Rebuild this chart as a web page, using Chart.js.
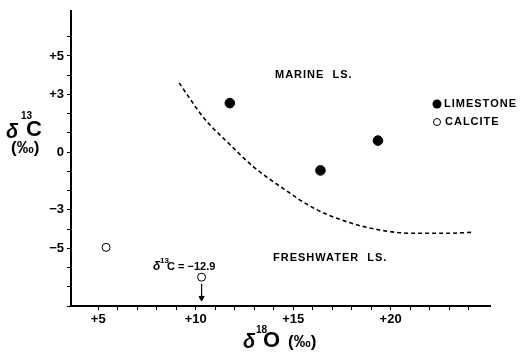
<!DOCTYPE html>
<html>
<head>
<meta charset="utf-8">
<script src="https://cdn.jsdelivr.net/npm/chart.js@4/dist/chart.umd.min.js"></script>
<style>
html,body{margin:0;padding:0;background:#fff;}
</style>
</head>
<body>
<canvas id="chart" width="527" height="359"></canvas>
<script>
// delta 18O / delta 13C values
var limestoneO = [11.75, 16.4, 19.35];
var limestoneC = [2.55, -0.95, 0.6];
var calciteO = [5.4, 10.3];
var calciteC = [-4.95, -6.5];
// dashed boundary marine / freshwater
var curveO = [9.15, 10.4, 11.75, 12.95, 14.5, 16.0, 17.75, 19.45, 21.15, 22.85, 24.15];
var curveC = [3.6, 1.8, 0.4, -0.75, -1.9, -2.88, -3.62, -4.05, -4.22, -4.22, -4.17];
// arrow under the off-scale calcite (d13C = -12.9)
var arrowO = [10.3, 10.3];
var arrowC = [-6.85, -7.58];

var xTickLabels = {5:'+5', 10:'+10', 15:'+15', 20:'+20', 25:'+25'};
var yTickLabels = {5:'+5', 3:'+3', 0:'0', '-3':'\u22123', '-5':'\u22125'};

function pts(xs, ys){
	var out = [];
	for(var i=0;i<xs.length;i++){ out.push({x:xs[i], y:ys[i]}); }
	return out;
}

function onlyInts(scale){
	scale.ticks = scale.ticks.filter(function(t){ return Number.isInteger(t.value); });
}

var FAM = '"Liberation Sans", Arial, sans-serif';
var BOLD = 'bold 11px ' + FAM;

//texts drawn on top
var textPlugin = {
	id:'texts',
	afterDraw:function(chart){
		var ctx = chart.ctx;
		ctx.save();
		ctx.fillStyle = '#000';
		ctx.textBaseline = 'middle';
		ctx.textAlign = 'left';

		// region names
		ctx.font = BOLD;
		ctx.letterSpacing = '1px';
		ctx.fillText('MARINE  LS.', 275, 75);
		ctx.fillText('FRESHWATER  LS.', 273, 258);

		// legend
		ctx.fillText('LIMESTONE', 444, 104);
		ctx.fillText('CALCITE', 445, 122);
		ctx.letterSpacing = '0px';
		ctx.beginPath();
		ctx.arc(437, 104, 4.5, 0, Math.PI*2);
		ctx.fill();
		ctx.beginPath();
		ctx.arc(437, 122, 3.5, 0, Math.PI*2);
		ctx.lineWidth = 1;
		ctx.strokeStyle = '#000';
		ctx.stroke();

		// note for the off-scale calcite
		ctx.font = 'bold italic 12px ' + FAM;
		ctx.fillText('\u03b4', 153, 267);
		ctx.font = 'bold 8px ' + FAM;
		ctx.fillText('13', 160, 261);
		ctx.font = BOLD;
		ctx.fillText('C = \u221212.9', 167, 267);

		// y axis title
		ctx.font = 'bold italic 20px ' + FAM;
		ctx.fillText('\u03b4', 6, 132);
		ctx.font = 'bold 10px ' + FAM;
		ctx.fillText('13', 21, 116);
		ctx.font = 'bold 22px ' + FAM;
		ctx.fillText('C', 26, 130);
		ctx.font = 'bold 17px ' + FAM;
		ctx.fillText('(\u2030)', 11, 148);

		// x axis title
		ctx.font = 'bold italic 20px ' + FAM;
		ctx.fillText('\u03b4', 243, 342);
		ctx.font = 'bold 10px ' + FAM;
		ctx.fillText('18', 256, 330);
		ctx.font = 'bold 22px ' + FAM;
		ctx.fillText('O', 263, 341);
		ctx.font = 'bold 17px ' + FAM;
		ctx.fillText('(\u2030)', 288, 342);
		ctx.restore();
	}
};

var tickFont = {family:FAM, size:13, weight:'bold'};

var myChart = new Chart(document.getElementById('chart'), {
	type:'scatter',
	data:{
		datasets:[
			{
				data:pts(curveO, curveC),
				showLine:true,
				borderColor:'#000',
				borderWidth:1.6,
				borderDash:[4,3],
				pointRadius:0,
				cubicInterpolationMode:'monotone'
			},
			{
				data:pts(limestoneO, limestoneC),
				pointRadius:4.8,
				backgroundColor:'#000',
				borderColor:'#000'
			},
			{
				data:pts(calciteO, calciteC),
				pointRadius:4,
				backgroundColor:'#fff',
				borderColor:'#000',
				borderWidth:1
			},
			{
				data:pts(arrowO, arrowC),
				showLine:true,
				borderColor:'#000',
				borderWidth:1,
				pointRadius:[0,3],
				pointStyle:'triangle',
				rotation:180,
				backgroundColor:'#000'
			}
		]
	},
	options:{
		responsive:false,
		animation:false,
		devicePixelRatio:1,
		layout:{padding:{top:5, right:37, left:0, bottom:0}},
		plugins:{legend:{display:false}, tooltip:{enabled:false}},
		scales:{
			x:{
				type:'linear', min:3.6, max:25.1,
				afterBuildTicks:onlyInts,
				afterFit:function(s){ s.height = 53; },
				ticks:{stepSize:1, autoSkip:false, maxRotation:0, color:'#000', font:tickFont, padding:2,
					callback:function(v){ return xTickLabels[v] || ''; }},
				grid:{drawOnChartArea:false, tickLength:4, color:'#000', lineWidth:1},
				border:{color:'#000', width:2}
			},
			y:{
				type:'linear', min:-8, max:7.35,
				afterBuildTicks:onlyInts,
				afterFit:function(s){ s.width = 71; },
				ticks:{stepSize:1, autoSkip:false, color:'#000', font:tickFont, padding:3,
					callback:function(v){ return yTickLabels[v] || ''; }},
				grid:{drawOnChartArea:false, tickLength:4, color:'#000', lineWidth:1},
				border:{color:'#000', width:2}
			}
		}
	},
	plugins:[textPlugin]
});
</script>
</body>
</html>
